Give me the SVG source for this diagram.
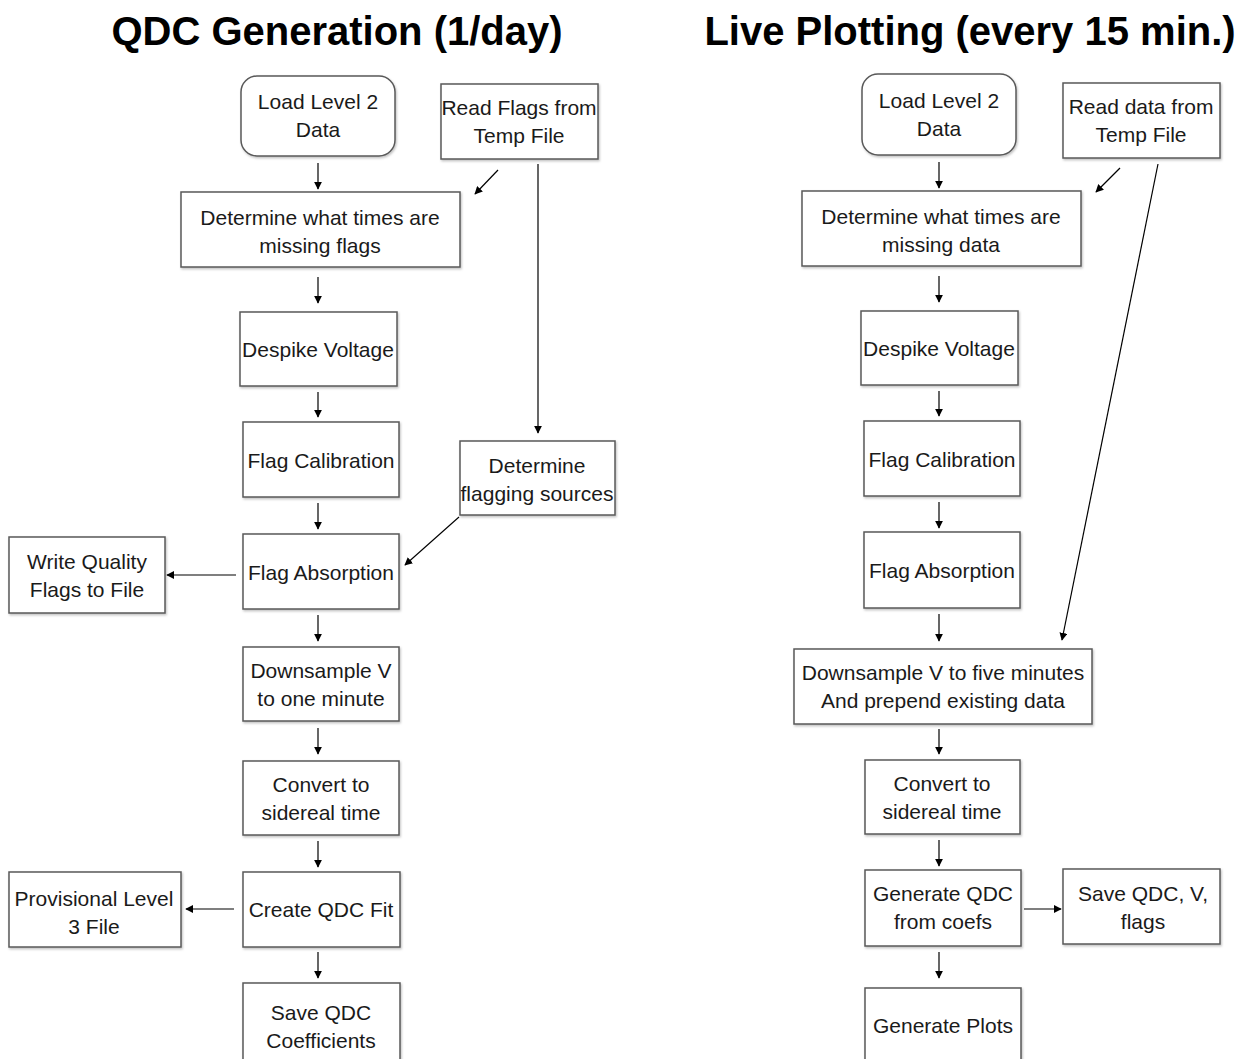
<svg xmlns="http://www.w3.org/2000/svg" width="1245" height="1059" viewBox="0 0 1245 1059">
<defs>
<marker id="ah" viewBox="0 0 10 10" refX="9" refY="5" markerWidth="8" markerHeight="8" markerUnits="userSpaceOnUse" orient="auto"><path d="M0,0 L10,5 L0,10 z" fill="#000"/></marker>
<filter id="sh" x="-5%" y="-5%" width="115%" height="120%"><feDropShadow dx="1" dy="1.5" stdDeviation="1" flood-color="#000" flood-opacity="0.25"/></filter>
</defs>
<style>
.b{fill:#fff;stroke:#595959;stroke-width:1.5;filter:url(#sh)}
.t{font-family:"Liberation Sans",Arial,sans-serif;font-size:21px;fill:#1a1a1a;text-anchor:middle;dominant-baseline:central}
.h{font-family:"Liberation Sans",Arial,sans-serif;font-size:40px;font-weight:bold;fill:#000;text-anchor:middle}
.c{stroke:#000;stroke-width:1.2;fill:none;marker-end:url(#ah)}
</style>
<rect width="1245" height="1059" fill="#fff"/>
<text class="h" x="337" y="45">QDC Generation (1/day)</text>
<text class="h" x="970" y="45">Live Plotting (every 15 min.)</text>
<g id="connectors">
<line class="c" x1="318" y1="163" x2="318" y2="189"/>
<line class="c" x1="498" y1="170" x2="475" y2="194"/>
<line class="c" x1="538" y1="164" x2="538" y2="433"/>
<line class="c" x1="318" y1="277" x2="318" y2="303"/>
<line class="c" x1="318" y1="392" x2="318" y2="417"/>
<line class="c" x1="318" y1="503" x2="318" y2="529"/>
<line class="c" x1="459" y1="517" x2="405" y2="565"/>
<line class="c" x1="236" y1="575" x2="167" y2="575"/>
<line class="c" x1="318" y1="615" x2="318" y2="641"/>
<line class="c" x1="318" y1="728" x2="318" y2="754"/>
<line class="c" x1="318" y1="841" x2="318" y2="867"/>
<line class="c" x1="234" y1="909" x2="186" y2="909"/>
<line class="c" x1="318" y1="952" x2="318" y2="978"/>
<line class="c" x1="939" y1="162" x2="939" y2="188"/>
<line class="c" x1="1120" y1="168" x2="1096" y2="192"/>
<line class="c" x1="1158" y1="164" x2="1062" y2="640"/>
<line class="c" x1="939" y1="276" x2="939" y2="302"/>
<line class="c" x1="939" y1="391" x2="939" y2="416"/>
<line class="c" x1="939" y1="502" x2="939" y2="528"/>
<line class="c" x1="939" y1="614" x2="939" y2="641"/>
<line class="c" x1="939" y1="729" x2="939" y2="754"/>
<line class="c" x1="939" y1="840" x2="939" y2="866"/>
<line class="c" x1="1024" y1="909" x2="1061" y2="909"/>
<line class="c" x1="939" y1="952" x2="939" y2="978"/>
</g>
<g id="l-load"><rect class="b" x="241" y="76" width="154" height="80" rx="16"/><text class="t" x="318" y="101">Load Level 2</text><text class="t" x="318" y="129">Data</text></g>
<g id="l-read"><rect class="b" x="441" y="84" width="157" height="75"/><text class="t" x="519" y="107">Read Flags from</text><text class="t" x="519" y="135">Temp File</text></g>
<g id="l-missing"><rect class="b" x="181" y="192" width="279" height="75"/><text class="t" x="320" y="217">Determine what times are</text><text class="t" x="320" y="245">missing flags</text></g>
<g id="l-despike"><rect class="b" x="240" y="312" width="157" height="74"/><text class="t" x="318" y="349">Despike Voltage</text></g>
<g id="l-cal"><rect class="b" x="243" y="422" width="156" height="75"/><text class="t" x="321" y="460">Flag Calibration</text></g>
<g id="l-sources"><rect class="b" x="460" y="441" width="155" height="74"/><text class="t" x="537" y="465">Determine</text><text class="t" x="537" y="493">flagging sources</text></g>
<g id="l-abs"><rect class="b" x="243" y="534" width="156" height="75"/><text class="t" x="321" y="572">Flag Absorption</text></g>
<g id="l-write"><rect class="b" x="9" y="537" width="156" height="76"/><text class="t" x="87" y="561">Write Quality</text><text class="t" x="87" y="589">Flags to File</text></g>
<g id="l-down"><rect class="b" x="243" y="647" width="156" height="74"/><text class="t" x="321" y="670">Downsample V</text><text class="t" x="321" y="698">to one minute</text></g>
<g id="l-sid"><rect class="b" x="243" y="761" width="156" height="74"/><text class="t" x="321" y="784">Convert to</text><text class="t" x="321" y="812">sidereal time</text></g>
<g id="l-fit"><rect class="b" x="243" y="872" width="157" height="75"/><text class="t" x="321" y="909">Create QDC Fit</text></g>
<g id="l-prov"><rect class="b" x="9" y="872" width="172" height="75"/><text class="t" x="94" y="898">Provisional Level</text><text class="t" x="94" y="926">3 File</text></g>
<g id="l-save"><rect class="b" x="243" y="983" width="157" height="80"/><text class="t" x="321" y="1012">Save QDC</text><text class="t" x="321" y="1040">Coefficients</text></g>
<g id="r-load"><rect class="b" x="862" y="74" width="154" height="81" rx="16"/><text class="t" x="939" y="100">Load Level 2</text><text class="t" x="939" y="128">Data</text></g>
<g id="r-read"><rect class="b" x="1063" y="83" width="157" height="75"/><text class="t" x="1141" y="106">Read data from</text><text class="t" x="1141" y="134">Temp File</text></g>
<g id="r-missing"><rect class="b" x="802" y="191" width="279" height="75"/><text class="t" x="941" y="216">Determine what times are</text><text class="t" x="941" y="244">missing data</text></g>
<g id="r-despike"><rect class="b" x="861" y="311" width="157" height="74"/><text class="t" x="939" y="348">Despike Voltage</text></g>
<g id="r-cal"><rect class="b" x="864" y="421" width="156" height="75"/><text class="t" x="942" y="459">Flag Calibration</text></g>
<g id="r-abs"><rect class="b" x="864" y="532" width="156" height="76"/><text class="t" x="942" y="570">Flag Absorption</text></g>
<g id="r-down"><rect class="b" x="794" y="649" width="298" height="75"/><text class="t" x="943" y="672">Downsample V to five minutes</text><text class="t" x="943" y="700">And prepend existing data</text></g>
<g id="r-sid"><rect class="b" x="865" y="760" width="155" height="74"/><text class="t" x="942" y="783">Convert to</text><text class="t" x="942" y="811">sidereal time</text></g>
<g id="r-gen"><rect class="b" x="865" y="870" width="156" height="76"/><text class="t" x="943" y="893">Generate QDC</text><text class="t" x="943" y="921">from coefs</text></g>
<g id="r-saveqdc"><rect class="b" x="1063" y="869" width="157" height="75"/><text class="t" x="1143" y="893">Save QDC, V,</text><text class="t" x="1143" y="921">flags</text></g>
<g id="r-plots"><rect class="b" x="865" y="988" width="156" height="80"/><text class="t" x="943" y="1025">Generate Plots</text></g>
</svg>
